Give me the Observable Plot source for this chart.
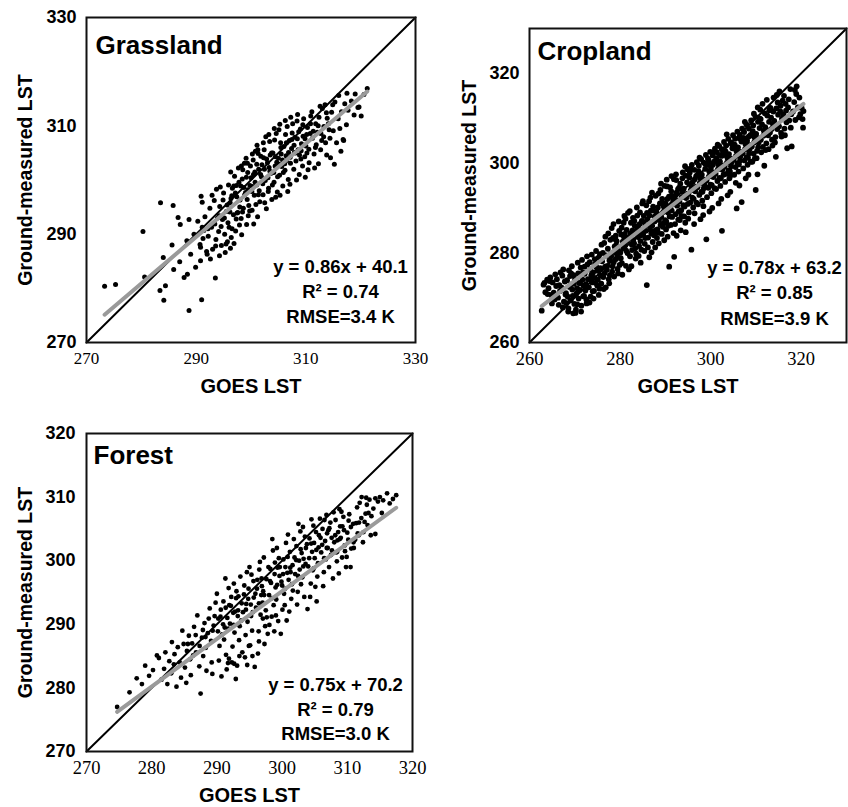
<!DOCTYPE html>
<html><head><meta charset="utf-8">
<script src="https://cdn.jsdelivr.net/npm/d3@7"></script>
<script src="https://cdn.jsdelivr.net/npm/@observablehq/plot@0.6"></script>
<style>
body{margin:0;background:#fff;}
#wrap{position:relative;width:848px;height:807px;overflow:hidden;background:#fff;}
.panel{position:absolute;overflow:visible;}
</style></head><body><div id="wrap"></div>
<script>
const panelNames = ["Grassland", "Cropland", "Forest"];
const slopes = [0.86, 0.78, 0.75];
const intercepts = [40.1, 63.2, 70.2];
const r2Values = ["0.74", "0.85", "0.79"];
const rmseValues = ["3.4", "3.9", "3.0"];
const domains = [[270, 330], [260, 330], [270, 320]];
const tickValues = [[270, 290, 310, 330], [260, 280, 300, 320], [270, 280, 290, 300, 310, 320]];
const xLabel = "GOES LST";
const yLabel = "Ground-measured LST";

const grassland = [
[273.3,280.4],[275.3,280.7],[280.3,290.5],[283.5,295.8],[285.8,295.3],[280.6,282.1],[284.0,285.7],[285.6,288.0],[284.1,277.8],[288.7,275.9],[291.0,277.9],[293.5,281.9],[283.4,279.6],[284.4,280.5],[285.9,283.5],[287.0,284.9],[287.1,291.8],[286.7,293.1],[288.7,292.7],[288.3,288.8],[289.0,286.3],[289.9,283.9],[287.8,282.0],[288.4,282.6],[290.8,285.1],[292.0,286.3],[290.8,287.6],[289.6,290.0],[291.1,291.3],
[290.3,292.4],[290.7,288.1],[291.1,295.9],[291.4,290.7],[291.9,286.8],[291.6,293.2],[290.9,297.0],
[292.2,289.6],[292.5,294.8],[292.8,291.3],[293.0,287.2],[293.3,296.2],[293.6,289.0],[293.9,293.0],[292.6,285.4],[293.4,291.9],[293.7,298.3],[292.9,297.2],
[294.1,290.5],[294.3,295.1],[294.6,287.9],[294.8,292.7],[295.0,297.6],[295.2,290.0],[295.5,294.2],[295.7,288.6],[295.9,299.1],[294.4,298.7],[295.3,286.6],[294.9,296.3],[295.8,292.1],[294.2,293.4],
[296.0,291.3],[296.2,295.8],[296.4,289.4],[296.6,298.5],[296.8,293.6],[297.0,300.7],[297.2,290.6],[297.4,296.9],[297.6,294.0],[297.8,299.6],[296.3,301.5],[296.9,288.3],[297.3,292.8],[297.7,302.2],[296.5,297.1],[297.9,291.7],
[298.0,296.3],[298.2,292.9],[298.4,300.2],[298.6,294.8],[298.8,303.1],[299.0,297.7],[299.2,291.8],[299.4,301.4],[299.6,295.3],[299.8,299.0],[298.3,289.9],[298.7,298.6],[299.1,304.0],[299.5,293.4],[299.9,302.6],[298.5,301.9],[299.3,296.4],
[300.0,300.4],[300.2,294.4],[300.4,303.7],[300.6,297.2],[300.8,305.3],[301.0,299.1],[301.2,293.2],[301.4,302.0],[301.6,296.0],[301.8,304.4],[300.3,298.8],[300.7,301.5],[301.1,306.4],[301.5,298.0],[301.9,300.6],[300.5,291.9],[301.3,304.9],[300.9,295.5],
[302.0,302.8],[302.2,297.3],[302.4,305.6],[302.6,299.9],[302.8,294.7],[303.0,303.2],[303.2,298.5],[303.4,307.1],[303.6,301.2],[303.8,296.4],[302.3,304.1],[302.7,308.0],[303.1,300.4],[303.5,304.6],[303.9,299.1],[302.5,295.8],[303.3,302.3],
[304.0,305.0],[304.2,299.6],[304.4,302.6],[304.6,308.6],[304.8,297.8],[305.0,304.0],[305.2,300.9],[305.4,306.9],[305.6,302.5],[305.8,298.9],[304.3,307.4],[304.7,303.3],[305.1,309.3],[305.5,304.8],[305.9,301.4],[304.5,296.8],[305.3,297.2],
[306.0,306.2],[306.2,301.8],[306.4,304.5],[306.6,309.9],[306.8,300.1],[307.0,307.3],[307.2,303.1],[307.4,305.8],[307.6,310.4],[307.8,302.0],[306.3,308.4],[306.7,297.9],[307.1,299.2],[307.5,308.7],[307.9,305.1],[306.5,303.6],
[308.0,307.9],[308.2,303.5],[308.4,310.9],[308.6,305.6],[308.8,301.0],[309.0,309.4],[309.2,306.7],[309.4,302.6],[309.6,311.3],[309.8,304.3],[308.3,300.0],[308.7,308.9],[309.1,303.9],[309.5,308.1],[309.9,300.5],[308.5,312.1],
[310.0,306.3],[310.3,309.7],[310.6,303.2],[310.9,311.8],[311.2,307.7],[311.5,304.8],[311.8,310.4],[310.4,301.9],[310.8,308.6],[311.1,312.6],[311.6,302.2],[310.2,305.0],[311.9,306.5],
[312.1,308.8],[312.4,311.6],[312.7,305.6],[313.0,313.2],[313.3,309.9],[313.6,306.9],[313.9,311.4],[312.3,303.0],[312.9,307.3],[313.5,313.9],[312.6,313.6],[313.8,304.6],
[314.1,310.4],[314.4,307.7],[314.7,312.5],[315.0,309.1],[315.3,314.4],[315.6,306.9],[315.9,311.3],[314.5,304.1],[315.2,302.9],[314.9,313.9],
[316.2,309.5],[316.5,312.6],[316.8,307.5],[317.1,314.1],[316.4,305.3],[317.4,310.2],[316.0,315.6],[317.7,312.9],[316.9,307.3],[317.5,316.0],
[318.3,314.6],[318.8,312.0],[319.5,313.4],[319.7,313.5],[320.1,311.8],[320.6,315.8],[319.0,315.9],[321.2,316.9],
[294.55,291.4],[295.15,293.0],[295.65,295.4],[296.15,294.1],[296.55,291.0],[296.85,298.9],[297.15,297.6],[297.45,293.9],[297.95,295.0],[298.15,298.9],[298.45,294.1],[298.85,297.3],[299.15,300.5],[299.45,298.2],[299.75,294.3],[300.15,297.9],[300.45,301.0],[300.75,299.6],[301.05,302.9],[301.35,297.3],[301.75,301.0],[302.15,299.3],[302.45,302.0],[302.85,303.9],[303.15,297.9],[303.45,301.6],[303.75,305.0],[304.15,301.4],[304.45,304.3],[304.85,300.6],[305.15,302.9],[305.45,306.0],[305.75,303.7],[306.15,303.0],[306.45,306.9],[306.85,305.1],[307.15,304.2],[307.45,307.5],[307.85,306.4],[308.15,305.0],[308.45,307.6],[308.85,304.6],[309.15,305.4],[309.45,310.2],[309.85,307.6],[310.15,308.4],[310.55,305.7],[310.85,310.4],[311.35,309.0],[311.75,306.0],[312.25,310.0],[312.75,308.6],[313.25,308.0],[313.75,312.4],[314.25,309.3],[296.35,296.6],[297.35,299.0],[298.25,302.6],[299.35,303.1],[300.25,304.8],[301.25,305.6],[302.25,306.9],[303.25,308.4],[304.25,309.5],[305.25,310.3],[306.25,311.0],[307.25,311.6],[293.55,287.8],[294.25,286.0],[295.45,288.2],[296.25,287.4],[292.15,291.0],[291.25,289.2]
];

const cropland = [
[263.1,272.9],[263.5,271.2],[263.9,274.0],[263.3,273.3],[262.7,267.1],[264.0,270.8],
[264.2,272.1],[264.6,274.5],[264.8,270.6],[264.4,273.7],[264.95,268.7],
[265.1,273.4],[265.35,271.1],[265.7,275.2],[265.55,269.6],[265.9,272.6],
[266.05,274.1],[266.3,270.0],[266.6,272.8],[266.85,275.6],[266.45,268.4],[266.75,271.5],
[267.1,272.2],[267.25,274.9],[267.6,269.1],[267.8,273.6],[267.45,276.3],[267.95,270.7],[267.35,267.8],
[268.05,271.0],[268.3,273.9],[268.55,266.9],[268.7,276.1],[268.15,268.8],[268.85,272.4],[268.45,270.2],[268.95,274.8],[268.6,267.6],
[269.1,269.4],[269.2,275.4],[269.45,271.8],[269.65,266.5],[269.8,273.1],[269.35,277.0],[269.9,268.6],[269.55,270.4],[269.05,272.9],[269.75,275.0],
[270.05,274.2],[270.25,267.3],[270.5,272.1],[270.65,277.8],[270.85,269.8],[270.35,270.9],[270.75,275.4],[270.15,266.6],[270.95,273.3],[270.55,268.5],
[271.1,271.7],[271.3,276.7],[271.45,268.2],[271.7,274.0],[271.85,270.3],[271.2,273.2],[271.6,278.4],[271.95,272.6],[271.4,266.9],[271.8,275.6],
[272.05,270.4],[272.2,275.3],[272.45,273.0],[272.6,268.7],[272.8,277.4],[272.35,271.6],[272.9,274.1],[272.7,279.2],[272.15,276.9],[272.55,269.6],
[273.1,272.3],[273.3,277.9],[273.5,270.2],[273.65,275.0],[273.85,273.4],[273.25,268.9],[273.75,279.6],[273.95,271.4],[273.4,276.2],[273.55,274.1],
[274.05,275.6],[274.25,271.5],[274.4,278.6],[274.6,273.3],[274.8,276.8],[274.15,269.8],[274.7,280.4],[274.95,272.7],[274.35,274.4],[274.5,277.5],
[275.1,274.0],[275.25,278.9],[275.45,272.0],[275.65,276.6],[275.9,281.8],[275.3,270.6],[275.75,274.9],[275.55,279.7],[275.05,276.0],[275.85,273.1],
[276.05,278.1],[276.3,274.6],[276.5,282.2],[276.7,276.9],[276.85,272.3],[276.2,280.0],[276.6,275.5],[276.95,279.4],[276.4,271.9],[276.75,283.6],
[277.1,276.2],[277.3,280.9],[277.5,274.1],[277.65,278.3],[277.85,282.9],[277.2,277.1],[277.75,275.0],[277.4,284.3],[277.95,279.8],[277.6,273.2],
[278.05,279.2],[278.25,275.8],[278.45,283.3],[278.6,277.9],[278.8,281.4],[278.15,285.5],[278.7,274.7],[278.9,280.1],[278.35,277.0],[278.55,286.4],[278.95,283.0],
[279.1,278.6],[279.25,282.6],[279.45,276.4],[279.6,280.5],[279.8,284.9],[279.35,279.5],[279.7,287.0],[279.9,277.3],[279.15,281.7],[279.55,275.4],[279.05,283.8],
[280.05,280.0],[280.25,284.1],[280.4,277.7],[280.6,282.5],[280.8,286.7],[280.15,278.8],[280.7,281.1],[280.95,288.2],[280.35,285.6],[280.5,275.1],[280.85,283.6],
[281.1,281.6],[281.3,277.1],[281.45,285.1],[281.65,279.9],[281.8,283.4],[281.2,287.6],[281.55,282.6],[281.95,276.3],[281.35,280.5],[281.75,288.9],[281.05,284.2],
[282.05,283.3],[282.2,279.2],[282.4,286.7],[282.6,281.8],[282.75,285.0],[282.15,289.3],[282.5,277.0],[282.9,282.9],[282.3,284.3],[282.65,280.6],[282.85,287.8],
[283.1,282.1],[283.25,286.0],[283.45,278.7],[283.6,284.4],[283.8,288.3],[283.35,281.0],[283.7,290.1],[283.95,283.5],[283.15,287.1],[283.55,279.8],[283.9,285.3],
[284.05,285.5],[284.2,281.5],[284.4,289.0],[284.6,283.9],[284.8,287.1],[284.1,279.3],[284.5,282.6],[284.9,291.0],[284.3,286.4],[284.7,280.7],[284.95,284.8],[284.55,277.8],
[285.1,284.2],[285.25,288.2],[285.45,282.0],[285.6,286.1],[285.8,290.6],[285.35,280.4],[285.7,284.9],[285.95,288.9],[285.15,286.9],[285.55,283.3],[285.9,272.8],[285.05,291.5],
[286.05,287.4],[286.2,283.4],[286.4,291.5],[286.6,285.2],[286.8,289.4],[286.15,281.2],[286.5,288.3],[286.9,284.3],[286.3,286.3],[286.7,292.3],[286.95,280.1],[286.45,279.0],
[287.1,286.0],[287.3,290.3],[287.5,283.9],[287.65,288.1],[287.85,292.7],[287.2,282.4],[287.6,287.0],[287.95,285.0],[287.4,289.4],[287.75,281.2],[287.05,293.4],[287.55,284.8],
[288.05,289.1],[288.25,285.2],[288.45,293.2],[288.6,287.3],[288.8,291.0],[288.15,283.3],[288.7,288.4],[288.95,286.2],[288.35,290.1],[288.55,282.1],[288.9,294.0],[288.4,284.5],
[289.1,288.0],[289.3,292.0],[289.45,285.8],[289.65,290.3],[289.85,294.9],[289.2,284.2],[289.55,289.1],[289.95,287.3],[289.35,291.1],[289.75,282.8],[289.05,295.4],[289.6,286.6],
[290.05,291.0],[290.2,287.0],[290.4,294.8],[290.6,289.0],[290.8,292.5],[290.15,285.2],[290.7,290.0],[290.95,288.1],[290.3,296.3],[290.5,283.6],[290.85,276.9],[290.45,292.0],[290.65,286.0],
[291.1,290.1],[291.3,293.7],[291.5,288.0],[291.7,291.9],[291.9,296.4],[291.2,286.2],[291.6,290.9],[291.95,279.1],[291.4,289.4],[291.8,284.4],[291.05,294.6],[291.55,292.6],[291.35,297.1],
[292.05,292.6],[292.25,288.6],[292.4,296.2],[292.6,290.5],[292.8,294.2],[292.15,286.4],[292.7,291.6],[292.95,289.2],[292.35,297.5],[292.5,283.8],[292.85,287.4],[292.45,293.4],
[293.1,291.5],[293.3,295.4],[293.5,289.5],[293.7,293.6],[293.85,297.9],[293.2,287.3],[293.6,292.4],[293.95,290.6],[293.4,285.0],[293.75,296.6],[293.05,294.5],[293.55,288.2],
[294.05,294.3],[294.25,290.3],[294.45,297.2],[294.6,292.2],[294.8,295.7],[294.15,288.1],[294.7,293.1],[294.95,290.9],[294.35,299.3],[294.5,284.6],[294.85,298.6],[294.4,286.7],
[295.1,293.1],[295.3,296.8],[295.5,291.2],[295.65,295.0],[295.85,299.6],[295.2,289.0],[295.6,293.9],[295.95,292.3],[295.4,297.9],[295.75,280.7],[295.05,287.6],[295.55,298.8],
[296.05,295.8],[296.25,292.0],[296.4,298.5],[296.6,293.7],[296.8,297.1],[296.15,290.1],[296.7,294.7],[296.95,300.2],[296.35,286.4],[296.5,296.4],[296.85,291.2],[296.45,288.8],
[297.1,294.6],[297.3,298.2],[297.5,292.9],[297.7,296.6],[297.9,300.9],[297.2,290.8],[297.6,295.5],[297.95,293.6],[297.4,299.4],[297.75,287.5],[297.05,297.3],[297.55,301.2],
[298.05,297.4],[298.2,293.6],[298.45,300.1],[298.6,295.2],[298.8,298.7],[298.15,291.6],[298.7,296.3],[298.95,301.8],[298.35,288.4],[298.5,294.4],[298.85,299.8],[298.4,290.4],
[299.1,296.1],[299.3,299.7],[299.5,294.5],[299.7,298.1],[299.9,302.5],[299.2,292.4],[299.6,297.0],[299.95,295.2],[299.4,301.0],[299.75,289.2],[299.05,283.0],[299.55,300.6],
[300.05,298.9],[300.25,295.1],[300.45,301.7],[300.6,296.9],[300.8,300.3],[300.15,293.3],[300.7,297.9],[300.95,303.2],[300.35,290.0],[300.5,299.6],[300.85,294.4],[300.4,302.3],
[301.1,297.6],[301.3,301.1],[301.5,296.0],[301.7,299.7],[301.9,303.8],[301.2,294.2],[301.6,298.6],[301.95,296.7],[301.4,302.4],[301.75,291.0],[301.05,300.5],[301.55,304.1],
[302.05,300.4],[302.25,296.6],[302.45,303.1],[302.6,298.5],[302.8,301.8],[302.15,294.9],[302.7,299.5],[302.95,304.7],[302.35,292.0],[302.5,284.9],[302.85,297.4],[302.4,301.6],
[303.1,299.2],[303.3,302.6],[303.5,297.6],[303.7,301.2],[303.9,305.4],[303.2,295.8],[303.6,300.1],[303.95,298.3],[303.4,303.9],[303.75,292.8],[303.05,301.9],[303.55,306.4],
[304.05,302.0],[304.25,298.2],[304.45,304.6],[304.6,300.1],[304.8,303.3],[304.15,296.6],[304.7,301.0],[304.95,306.2],[304.35,293.6],[304.5,299.3],[304.85,304.0],[304.4,297.3],
[305.1,300.7],[305.3,304.1],[305.5,299.1],[305.7,302.7],[305.9,307.0],[305.2,297.4],[305.6,301.6],[305.95,299.9],[305.4,305.4],[305.75,289.9],[305.05,303.3],[305.55,295.6],
[306.05,303.5],[306.25,299.7],[306.45,306.2],[306.6,301.6],[306.8,304.8],[306.15,298.1],[306.7,302.5],[306.95,307.7],[306.35,295.0],[306.5,300.6],[306.85,291.3],[306.4,305.5],
[307.1,302.2],[307.3,305.6],[307.5,300.6],[307.7,304.2],[307.9,308.6],[307.2,298.8],[307.6,303.1],[307.95,301.3],[307.4,306.9],[307.75,296.6],[307.05,304.9],[307.55,309.2],
[308.05,305.0],[308.25,301.2],[308.45,307.7],[308.6,303.1],[308.8,306.3],[308.15,299.6],[308.7,304.0],[308.95,309.5],[308.35,297.4],[308.5,302.2],[308.85,300.3],[308.4,305.9],
[309.1,303.7],[309.3,307.1],[309.5,302.1],[309.7,305.7],[309.9,310.3],[309.2,300.3],[309.6,304.6],[309.95,294.0],[309.4,308.4],[309.75,301.0],[309.05,306.2],[309.55,311.0],
[310.05,306.5],[310.25,302.7],[310.45,309.2],[310.6,304.6],[310.8,307.8],[310.15,301.1],[310.7,305.5],[310.95,311.9],[310.35,297.5],[310.5,303.5],[310.85,309.9],[310.4,312.4],
[311.1,305.2],[311.35,308.6],[311.55,303.6],[311.75,307.2],[311.95,311.1],[311.2,302.4],[311.65,306.1],[311.45,313.2],[311.85,299.4],[311.05,309.8],
[312.05,308.0],[312.3,304.4],[312.5,310.6],[312.7,306.2],[312.9,309.2],[312.15,302.9],[312.6,307.3],[312.4,314.1],[312.8,303.1],[312.95,311.8],
[313.1,306.8],[313.35,310.1],[313.55,305.2],[313.75,308.7],[313.9,314.6],[313.2,312.3],[313.65,303.9],[313.45,307.6],[313.85,311.5],
[314.05,309.4],[314.3,305.8],[314.5,312.2],[314.7,307.6],[314.9,310.8],[314.2,304.6],[314.6,315.2],[314.4,301.4],[314.8,313.5],
[315.1,308.2],[315.35,311.6],[315.55,306.7],[315.75,309.9],[315.9,313.9],[315.2,316.0],[315.65,305.9],[315.45,312.8],
[316.05,310.9],[316.3,307.7],[316.55,313.2],[316.75,309.1],[316.9,303.3],[316.2,315.0],[316.65,311.7],[316.4,306.2],
[317.1,312.4],[317.35,309.5],[317.6,316.5],[317.8,310.9],[317.9,303.7],[317.25,314.2],[317.7,307.9],
[318.2,311.5],[318.45,313.6],[318.7,309.6],[318.9,315.4],[319.0,317.1],[319.25,312.4],[319.5,310.2],[319.8,310.9],[320.1,312.3],[320.3,309.8],[320.5,311.6],[320.4,307.9],[319.6,314.6],[318.6,316.3]
];

const forest = [
[274.7,277.0],[276.6,279.3],[277.7,281.5],[278.5,280.6],[279.0,283.5],[279.6,281.9],[280.2,282.8],[280.8,285.1],[281.1,284.7],[281.5,281.3],[281.9,283.0],[282.1,285.6],[282.4,280.6],[282.7,284.2],[283.1,287.2],[283.0,282.3],[283.5,285.3],[283.8,280.2],[283.4,283.7],[284.0,286.4],[284.3,284.0],[284.7,289.0],[284.5,281.6],[284.9,286.9],[285.1,283.2],[285.4,285.8],[285.7,288.2],[285.3,280.8],[285.9,284.5],[286.2,287.0],[286.5,289.6],[286.0,282.0],[286.8,285.6],[287.0,291.4],[287.5,279.1],[287.3,283.4],[287.7,287.9],[287.9,285.0],[288.1,290.2],[288.4,282.7],[288.6,288.6],[288.9,292.5],[288.3,286.3],[289.2,284.0],[289.3,282.2],[289.5,289.8],[289.8,293.4],[289.1,287.4],
[290.0,294.8],[290.2,290.9],[290.4,286.6],[290.6,292.3],[290.8,288.4],[290.3,284.3],[290.7,281.8],[291.0,293.6],[291.2,289.5],[291.4,285.2],[291.6,291.0],[291.8,295.7],[291.1,287.6],[291.5,282.9],[291.9,293.0],[291.3,297.2],[291.7,283.9],
[292.0,290.1],[292.2,294.3],[292.4,286.5],[292.6,296.4],[292.8,292.0],[292.3,284.0],[292.7,288.7],[292.9,281.4],[293.0,295.2],[293.2,291.3],[293.4,287.5],[293.6,297.5],[293.8,293.3],[293.1,283.5],[293.5,289.7],[293.9,285.6],[293.3,294.4],[292.5,291.8],
[294.0,291.9],[294.2,296.1],[294.4,288.3],[294.6,298.2],[294.8,294.0],[294.3,284.8],[294.7,290.4],[294.9,286.6],[295.0,299.0],[295.2,293.1],[295.4,289.0],[295.6,296.8],[295.8,283.3],[295.1,286.7],[295.5,291.9],[295.9,294.8],[295.3,297.8],[294.5,293.2],
[296.0,292.6],[296.2,297.0],[296.4,288.9],[296.6,299.8],[296.8,294.6],[296.3,285.4],[296.7,291.5],[296.9,296.0],[297.0,293.4],[297.2,300.5],[297.4,289.7],[297.6,297.1],[297.8,288.5],[297.1,295.2],[297.5,292.2],[297.9,299.0],[297.3,286.9],[296.5,298.6],
[298.0,294.6],[298.2,298.7],[298.4,291.2],[298.6,301.6],[298.8,288.9],[298.3,296.5],[298.7,293.0],[298.9,299.7],[299.0,295.8],[299.2,302.0],[299.4,290.5],[299.6,297.6],[299.8,288.5],[299.1,293.9],[299.5,300.4],[299.9,296.7],[299.3,298.9],[298.5,303.4],
[300.0,296.1],[300.2,300.2],[300.4,293.0],[300.6,302.8],[300.8,298.1],[300.3,294.8],[300.7,290.6],[300.9,304.1],[301.0,297.0],[301.2,301.4],[301.4,294.0],[301.6,299.3],[301.8,303.4],[301.1,292.0],[301.5,296.3],[301.9,300.5],[301.3,298.2],[300.5,299.0],
[302.0,297.9],[302.2,302.3],[302.4,295.1],[302.6,300.0],[302.8,304.6],[302.3,293.1],[302.7,298.6],[302.9,296.3],[303.0,301.2],[303.2,305.3],[303.4,294.3],[303.6,299.5],[303.8,302.6],[303.1,297.4],[303.5,303.8],[303.9,292.4],[303.3,300.3],[302.5,305.8],
[304.0,299.1],[304.2,303.5],[304.4,296.4],[304.6,301.4],[304.8,305.5],[304.3,294.3],[304.7,298.5],[304.9,302.8],[305.0,300.4],[305.2,304.5],[305.4,297.5],[305.6,302.1],[305.8,306.6],[305.1,295.9],[305.5,299.6],[305.9,303.6],[305.3,293.6],[304.5,306.5],
[306.0,301.3],[306.2,305.0],[306.4,298.2],[306.6,303.1],[306.8,307.2],[306.3,296.0],[306.7,300.2],[306.9,304.3],[307.0,302.0],[307.2,299.0],[307.4,306.0],[307.6,303.6],[307.8,297.2],[307.1,304.8],[307.5,300.9],[307.9,307.6],[306.5,306.4],
[308.0,302.9],[308.2,306.4],[308.4,299.9],[308.6,304.5],[308.8,308.1],[308.3,301.3],[308.7,298.0],[308.9,305.4],[309.0,303.6],[309.2,300.5],[309.4,306.9],[309.6,302.4],[309.8,299.0],[309.1,307.7],[309.5,304.8],[309.9,300.6],[308.5,303.2],
[310.0,304.4],[310.3,307.3],[310.6,301.9],[310.9,305.8],[311.2,303.3],[311.5,308.4],[311.8,306.0],[310.5,299.0],[311.0,302.0],[311.6,304.3],[310.2,306.3],[311.9,309.1],
[312.2,310.0],[312.5,304.5],[312.8,307.4],[313.1,305.6],[313.4,309.6],[313.7,307.0],[312.4,302.9],[313.0,308.8],[313.6,304.0],[312.9,309.9],
[314.0,308.2],[314.3,309.8],[314.3,304.2],[314.7,309.3],[315.0,310.0],[315.5,309.5],[316.1,310.6],[315.3,307.5],[316.5,309.0],[317.0,309.7],[317.5,310.3],
[285.55,286.9],[286.35,285.1],[286.75,288.3],[287.35,286.6],[287.85,289.1],[288.25,288.0],[288.75,290.9],[289.35,289.0],[289.65,291.3],[290.15,288.9],[290.55,291.2],[290.95,290.0],[291.35,292.6],[291.75,289.3],[292.15,292.9],[292.55,289.9],[292.95,294.1],[293.25,292.2],[293.75,290.6],[294.15,294.7],[294.45,292.3],[294.85,295.6],[295.25,291.3],[295.65,294.2],[296.15,295.6],[296.45,293.3],[296.85,297.2],[297.25,294.6],[297.65,291.1],[298.15,296.8],[298.45,294.1],[298.85,297.9],[299.25,296.2],[299.65,299.0],[300.15,297.9],[300.45,295.6],[300.85,300.6],[301.25,298.9],[301.65,295.3],[302.15,300.1],[302.45,297.6],[302.85,301.8],[303.25,299.1],[303.65,302.0],[304.15,300.4],[304.45,302.7],[304.85,298.8],[305.25,301.7],[305.65,304.0],[306.15,302.5],[306.45,300.4],[306.85,302.0],[307.25,305.1],[307.65,301.6],[308.15,304.0],[308.45,301.4],[308.85,303.4],[309.25,305.4],[309.65,301.5],[310.15,303.3],[310.55,305.3],[310.95,302.9],[311.35,305.9],[311.75,304.0],[312.15,306.7],[312.65,306.1],[313.25,307.5],[293.45,285.0],[294.65,283.6],[292.65,283.8],[295.45,285.0],[291.85,284.6],[296.45,287.3],[297.05,290.9],[298.05,289.9],[299.05,291.4],[300.05,292.3]
];

const datasets = [grassland, cropland, forest];

const layouts = [
  {left: 0, top: 0, w: 424, h: 400, ml: 86, mr: 9, mt: 17, mb: 58, r: 2.5, ytp: 10, xfs: 17, tdx: 9, tdy: 36, sdx: -75, sdy: [-75, -50, -25], ydx: -61},
  {left: 424, top: 0, w: 424, h: 400, ml: 105, mr: 2, mt: 28, mb: 58, r: 2.9, ytp: 10, xfs: 18.5, tdx: 8, tdy: 31, sdx: -72, sdy: [-74, -49, -23], ydx: -60},
  {left: 0, top: 400, w: 424, h: 407, ml: 86, mr: 12, mt: 33, mb: 56, r: 2.4, ytp: 11, xfs: 18.5, tdx: 7, tdy: 30, sdx: -77, sdy: [-66, -41, -17], ydx: -61}
];

const SANS = "'Liberation Sans', Arial, Helvetica, sans-serif";
const SERIF = "'Liberation Serif', 'Times New Roman', serif";

function panel(i) {
  const L = layouts[i];
  const pts = datasets[i];
  const [lo, hi] = domains[i];
  const [x0, x1] = d3.extent(pts, d => d[0]);
  const fit = [x0, x1].map(x => [x, slopes[i] * x + intercepts[i]]);
  const stats = [
    `y = ${slopes[i].toFixed(2)}x + ${intercepts[i].toFixed(1)}`,
    `R\u00B2 = ${r2Values[i]}`,
    `RMSE=${rmseValues[i]} K`
  ];
  const chart = Plot.plot({
    width: L.w, height: L.h,
    marginLeft: L.ml, marginRight: L.mr, marginTop: L.mt, marginBottom: L.mb,
    x: {domain: [lo, hi]},
    y: {domain: [lo, hi]},
    style: {fontFamily: SANS, color: "#000", background: "transparent", overflow: "visible"},
    marks: [
      Plot.dot(pts, {x: d => d[0], y: d => d[1], r: L.r, fill: "#000", stroke: null}),
      Plot.line([[lo, lo], [hi, hi]], {x: d => d[0], y: d => d[1], stroke: "#000", strokeWidth: 2}),
      Plot.line(fit, {x: d => d[0], y: d => d[1], stroke: "#9a9a9a", strokeWidth: 4}),
      Plot.frame({stroke: "#111", strokeWidth: 2}),
      Plot.axisY({ticks: tickValues[i], tickSize: 0, tickPadding: L.ytp, fontSize: 18, fontWeight: "bold", fontFamily: SANS, label: null}),
      Plot.axisX({ticks: tickValues[i], tickSize: 0, tickPadding: 9, fontSize: L.xfs, fontFamily: SERIF, label: null}),
      Plot.text([panelNames[i]], {text: d => d, frameAnchor: "top-left", dx: L.tdx, dy: L.tdy, textAnchor: "start", lineAnchor: "bottom", fontSize: 26, fontWeight: "bold", fontFamily: SANS}),
      ...stats.map((s, k) => Plot.text([s], {text: d => d, frameAnchor: "bottom-right", dx: L.sdx, dy: L.sdy[k], textAnchor: "middle", lineAnchor: "middle", fontSize: 18.5, fontWeight: "bold", fontFamily: SANS})),
      Plot.text([xLabel], {text: d => d, frameAnchor: "bottom", dy: 44, textAnchor: "middle", lineAnchor: "middle", fontSize: 20, fontWeight: "bold", fontFamily: SANS}),
      Plot.text([yLabel], {text: d => d, frameAnchor: "left", dx: L.ydx, rotate: -90, textAnchor: "middle", lineAnchor: "middle", fontSize: 19.5, fontWeight: "bold", fontFamily: SANS})
    ]
  });
  chart.classList.add("panel");
  chart.style.left = L.left + "px";
  chart.style.top = L.top + "px";
  chart.style.overflow = "visible";
  document.getElementById("wrap").appendChild(chart);
}

[0, 1, 2].forEach(panel);
</script>
</body></html>
